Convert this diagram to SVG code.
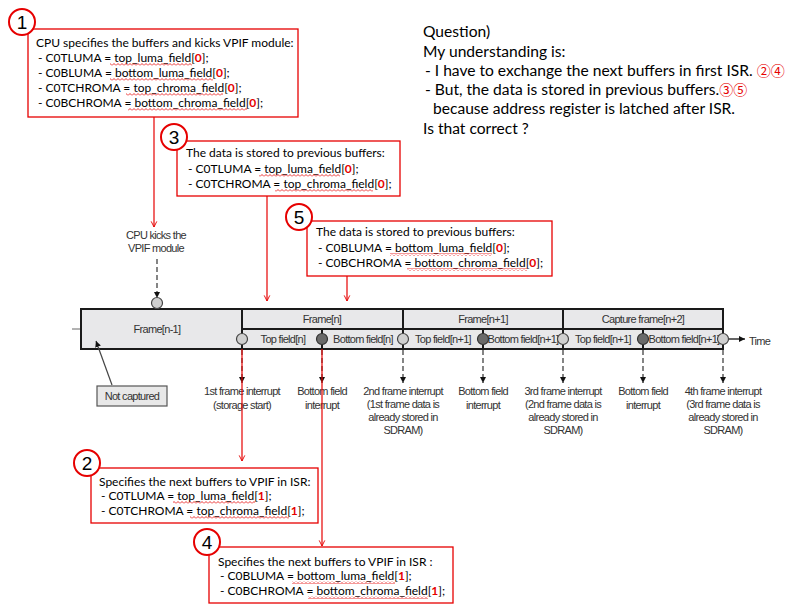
<svg xmlns="http://www.w3.org/2000/svg" width="787" height="610" viewBox="0 0 787 610">
<style>
.rb{fill:#fff;stroke:#e60000;stroke-width:1.3}
.rc{fill:#fff;stroke:#e60000;stroke-width:2}
.num{font-family:"Liberation Sans",sans-serif;font-size:19px;fill:#000;text-anchor:middle}
.t{font-family:Lato,"Liberation Sans",sans-serif;font-size:12px;fill:#000}
.q{font-family:Lato,"Liberation Sans",sans-serif;font-size:15.6px;fill:#000}
.cn{font-family:"Noto Sans CJK JP",sans-serif;font-size:14px;fill:#e60000}
.r{fill:#e60000;font-weight:bold}
.sq{fill:url(#wavy)}
.tl{font-family:"Liberation Sans",sans-serif;font-size:11px;fill:#333;letter-spacing:-0.7px;text-anchor:middle}
.red{stroke:#e60000;stroke-width:1.2;fill:none}
.dash{stroke:#444;stroke-width:1.3;stroke-dasharray:5,3;fill:none}
.cl{fill:#cfcfcf;stroke:#444;stroke-width:1.2}
.cd{fill:#6a6a6a;stroke:#333;stroke-width:1.2}
.bar{stroke:#1a1a1a;stroke-width:2;fill:none}
</style>
<defs>
<pattern id="wavy" x="0" y="0" width="4" height="3" patternUnits="userSpaceOnUse">
<path d="M0,2.5 L2,0.5 L4,2.5" fill="none" stroke="#e60000" stroke-width="0.8"/>
</pattern>
<marker id="ra" viewBox="0 0 10 10" refX="9" refY="5" markerWidth="7" markerHeight="9" markerUnits="userSpaceOnUse" orient="auto">
<path d="M1,1 L9,5 L1,9" fill="none" stroke="#e60000" stroke-width="1.3"/>
</marker>
<marker id="ba" viewBox="0 0 10 10" refX="10" refY="5" markerWidth="6" markerHeight="7" markerUnits="userSpaceOnUse" orient="auto">
<path d="M0,0 L10,5 L0,10 Z" fill="#111"/>
</marker>
</defs>

<g id="timeline">
<line x1="72" y1="329" x2="81" y2="329" stroke="#666" stroke-width="1"/>
<rect x="81" y="309" width="642" height="40" fill="#e8e8ea"/>
<rect x="81" y="309" width="642" height="40" class="bar"/>
<line x1="242" y1="309" x2="242" y2="349" class="bar"/>
<line x1="403" y1="309" x2="403" y2="349" class="bar"/>
<line x1="563" y1="309" x2="563" y2="349" class="bar"/>
<line x1="242" y1="329" x2="723" y2="329" class="bar"/>
<line x1="322" y1="329" x2="322" y2="349" class="bar"/>
<line x1="483" y1="329" x2="483" y2="349" class="bar"/>
<line x1="643" y1="329" x2="643" y2="349" class="bar"/>
<text class="tl" x="157" y="333">Frame[n-1]</text>
<text class="tl" x="322" y="323">Frame[n]</text>
<text class="tl" x="483" y="323">Frame[n+1]</text>
<text class="tl" x="643" y="323">Capture frame[n+2]</text>
<text class="tl" x="283" y="343">Top field[n]</text>
<text class="tl" x="363" y="343">Bottom field[n]</text>
<text class="tl" x="443" y="343">Top field[n+1]</text>
<text class="tl" x="523" y="343">Bottom field[n+1]</text>
<text class="tl" x="603" y="343">Top field[n+1]</text>
<text class="tl" x="684" y="343">Bottom field[n+1]</text>
<line x1="729" y1="339" x2="745" y2="339" stroke="#111" stroke-width="1.3" marker-end="url(#ba)"/>
<text class="tl" x="749" y="345" style="text-anchor:start">Time</text>
</g>

<g id="events">
<text class="tl" x="156" y="239">CPU kicks the</text>
<text class="tl" x="156" y="252">VPIF module</text>
<line x1="157" y1="259" x2="157" y2="298" class="dash" marker-end="url(#ba)"/>
<circle cx="157" cy="303" r="5.5" class="cl"/>

<circle cx="242" cy="339" r="5.5" class="cl"/>
<circle cx="322" cy="339" r="5.5" class="cd"/>
<circle cx="403" cy="339" r="5.5" class="cl"/>
<circle cx="483" cy="339" r="5.5" class="cd"/>
<circle cx="563" cy="339" r="5.5" class="cl"/>
<circle cx="643" cy="339" r="5.5" class="cd"/>
<circle cx="723" cy="339" r="5.5" class="cl"/>

<line x1="242" y1="350" x2="242" y2="383" class="dash" marker-end="url(#ba)"/>
<line x1="322" y1="350" x2="322" y2="383" class="dash" marker-end="url(#ba)"/>
<line x1="403" y1="350" x2="403" y2="383" class="dash" marker-end="url(#ba)"/>
<line x1="483" y1="350" x2="483" y2="383" class="dash" marker-end="url(#ba)"/>
<line x1="563" y1="350" x2="563" y2="383" class="dash" marker-end="url(#ba)"/>
<line x1="643" y1="350" x2="643" y2="383" class="dash" marker-end="url(#ba)"/>
<line x1="723" y1="350" x2="723" y2="383" class="dash" marker-end="url(#ba)"/>

<text class="tl" x="242" y="395">1st frame interrupt</text>
<text class="tl" x="242" y="409">(storage start)</text>
<text class="tl" x="322" y="395">Bottom field</text>
<text class="tl" x="322" y="409">interrupt</text>
<text class="tl" x="403" y="395">2nd frame interrupt</text>
<text class="tl" x="403" y="408">(1st frame data is</text>
<text class="tl" x="403" y="421">already stored in</text>
<text class="tl" x="403" y="434">SDRAM)</text>
<text class="tl" x="483" y="395">Bottom field</text>
<text class="tl" x="483" y="409">interrupt</text>
<text class="tl" x="563" y="395">3rd frame interrupt</text>
<text class="tl" x="563" y="408">(2nd frame data is</text>
<text class="tl" x="563" y="421">already stored in</text>
<text class="tl" x="563" y="434">SDRAM)</text>
<text class="tl" x="643" y="395">Bottom field</text>
<text class="tl" x="643" y="409">interrupt</text>
<text class="tl" x="723" y="395">4th frame interrupt</text>
<text class="tl" x="723" y="408">(3rd frame data is</text>
<text class="tl" x="723" y="421">already stored in</text>
<text class="tl" x="723" y="434">SDRAM)</text>
</g>

<g id="not-captured">
<rect x="97" y="386" width="70" height="20" fill="#e8e8e8" stroke="#555" stroke-width="1.2"/>
<text class="tl" x="132" y="400">Not captured</text>
<line x1="112" y1="385" x2="96" y2="341" stroke="#444" stroke-width="1.2" marker-end="url(#ba)"/>
</g>

<g id="connectors">
<line x1="154" y1="117" x2="154" y2="227" class="red" marker-end="url(#ra)"/>
<line x1="267" y1="196" x2="267" y2="301" class="red" marker-end="url(#ra)"/>
<line x1="347" y1="276" x2="347" y2="301" class="red" marker-end="url(#ra)"/>
<line x1="242" y1="349" x2="242" y2="461" class="red" marker-end="url(#ra)"/>
<line x1="322" y1="349" x2="322" y2="546" class="red" marker-end="url(#ra)"/>
</g>

<g id="box1">
<rect x="28" y="29" width="270" height="88" class="rb"/>
<circle cx="22" cy="22" r="13" class="rc"/>
<text class="num" x="22" y="29">1</text>
<text class="t" x="36" y="47">CPU specifies the buffers and kicks VPIF module:</text>
<text class="t" x="38" y="62">- C0TLUMA = top_luma_field[<tspan class="r">0</tspan>];</text>
<text class="t" x="38" y="77">- C0BLUMA = bottom_luma_field[<tspan class="r">0</tspan>];</text>
<text class="t" x="38" y="92">- C0TCHROMA = top_chroma_field[<tspan class="r">0</tspan>];</text>
<text class="t" x="38" y="107">- C0BCHROMA = bottom_chroma_field[<tspan class="r">0</tspan>];</text>
<rect class="sq" x="110" y="63" width="82" height="3"/>
<rect class="sq" x="110" y="78" width="103" height="3"/>
<rect class="sq" x="126" y="93" width="97" height="3"/>
<rect class="sq" x="128" y="108" width="119" height="3"/>
</g>

<g id="box3">
<rect x="177" y="141" width="223" height="55" class="rb"/>
<circle cx="174" cy="137" r="13" class="rc"/>
<text class="num" x="174" y="144">3</text>
<text class="t" x="186" y="157">The data is stored to previous buffers:</text>
<text class="t" x="188" y="173">- C0TLUMA = top_luma_field[<tspan class="r">0</tspan>];</text>
<text class="t" x="188" y="188">- C0TCHROMA = top_chroma_field[<tspan class="r">0</tspan>];</text>
<rect class="sq" x="259" y="174" width="81" height="3"/>
<rect class="sq" x="275" y="189" width="98" height="3"/>
</g>

<g id="box5">
<rect x="307" y="221" width="245" height="55" class="rb"/>
<circle cx="299" cy="217" r="13" class="rc"/>
<text class="num" x="299" y="224">5</text>
<text class="t" x="316" y="236">The data is stored to previous buffers:</text>
<text class="t" x="318" y="252">- C0BLUMA = bottom_luma_field[<tspan class="r">0</tspan>];</text>
<text class="t" x="318" y="267">- C0BCHROMA = bottom_chroma_field[<tspan class="r">0</tspan>];</text>
<rect class="sq" x="390" y="253" width="102" height="3"/>
<rect class="sq" x="407" y="268" width="120" height="3"/>
</g>

<g id="box2">
<rect x="91" y="468" width="227" height="55" class="rb"/>
<circle cx="87" cy="463" r="13" class="rc"/>
<text class="num" x="87" y="470">2</text>
<text class="t" x="99" y="486">Specifies the next buffers to VPIF in ISR:</text>
<text class="t" x="101" y="500">- C0TLUMA = top_luma_field[<tspan class="r">1</tspan>];</text>
<text class="t" x="101" y="515">- C0TCHROMA = top_chroma_field[<tspan class="r">1</tspan>];</text>
<rect class="sq" x="173" y="501" width="82" height="3"/>
<rect class="sq" x="190" y="516" width="99" height="3"/>
</g>

<g id="box4">
<rect x="209" y="547" width="244" height="56" class="rb"/>
<circle cx="207" cy="542" r="13" class="rc"/>
<text class="num" x="207" y="549">4</text>
<text class="t" x="218" y="566">Specifies the next buffers to VPIF in ISR :</text>
<text class="t" x="220" y="580">- C0BLUMA = bottom_luma_field[<tspan class="r">1</tspan>];</text>
<text class="t" x="220" y="595">- C0BCHROMA = bottom_chroma_field[<tspan class="r">1</tspan>];</text>
<rect class="sq" x="292" y="581" width="103" height="3"/>
<rect class="sq" x="308" y="596" width="120" height="3"/>
</g>

<g id="question">
<text class="q" x="423" y="37">Question)</text>
<text class="q" x="423" y="57">My understanding is:</text>
<text class="q" x="425" y="76">- I have to exchange the next buffers in first ISR. <tspan class="cn">②④</tspan></text>
<text class="q" x="425" y="95">- But, the data is stored in previous buffers.<tspan class="cn">③⑤</tspan></text>
<text class="q" x="433" y="114">because address register is latched after ISR.</text>
<text class="q" x="423" y="134">Is that correct ?</text>
</g>
</svg>
